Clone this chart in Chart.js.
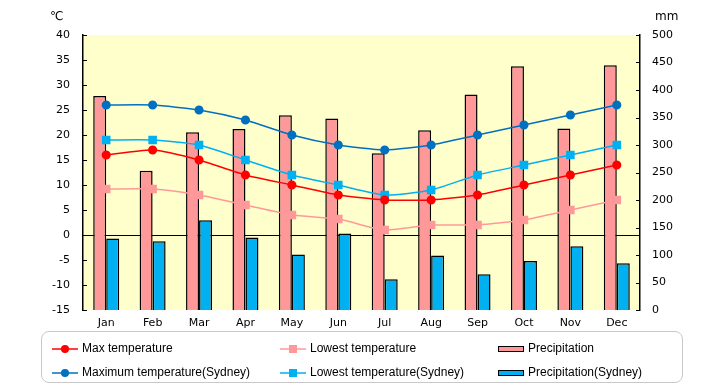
<!DOCTYPE html>
<html>
<head>
<meta charset="utf-8">
<script src="https://cdn.jsdelivr.net/npm/chart.js@4.4.0/dist/chart.umd.min.js"></script>
<style>
    body { margin: 0; background: #ffffff; }
    #wrap { position: relative; width: 720px; height: 385px; }
    .unidade { position: absolute; top: 9px; font: 12px "DejaVu Sans", sans-serif; color: #000; }
    #legenda {
        position: absolute; left: 41px; top: 331px; width: 642px; height: 52px;
        border: 1px solid #c8c8c8; border-radius: 8px; box-sizing: border-box;
        font: 12px "Liberation Sans", sans-serif; color: #000;
    }
    .item { position: absolute; height: 16px; line-height: 16px; white-space: nowrap; }
    .item canvas { vertical-align: middle; margin-right: 4px; }
</style>
</head>
<body>
<div id="wrap">
    <canvas id="grafico" width="720" height="385"></canvas>
    <span class="unidade" style="left:50px">℃</span>
    <span class="unidade" style="left:655px">mm</span>
    <div id="legenda"></div>
</div>
<script>
const meses = ['Jan', 'Feb', 'Mar', 'Apr', 'May', 'Jun', 'Jul', 'Aug', 'Sep', 'Oct', 'Nov', 'Dec'];

const maxTemp = [16, 17, 15, 12, 10, 8, 7, 7, 8, 10, 12, 14];
const minTemp = [9.2, 9.2, 8, 6, 4, 3.2, 1, 2, 2, 3, 5, 7];
const maxSydney = [26, 26, 25, 23, 20, 18, 17, 18, 20, 22, 24, 26];
const minSydney = [19, 19, 18, 15, 12, 10, 8, 9, 12, 14, 16, 18];
const chuva = [389, 253, 323, 329, 354, 348, 285, 327, 392, 443, 330, 445];
const chuvaSydney = [130, 125, 163, 132, 101, 139, 56, 99, 65, 89, 116, 85];

const ticksTemp = [-15, -10, -5, 0, 5, 10, 15, 20, 25, 30, 35, 40];
const ticksChuva = [0, 50, 100, 150, 200, 250, 300, 350, 400, 450, 500];

const fonte = { family: 'DejaVu Sans', size: 11 };

// fundo amarelo da area do grafico + ticks para dentro
const pluginFundo = {
    id: 'fundo',
    beforeDraw(chart) {
        const { ctx, chartArea } = chart;
        ctx.save();
        ctx.fillStyle = '#ffffcc';
        ctx.fillRect(chartArea.left, chartArea.top, chartArea.right - chartArea.left, chartArea.bottom - chartArea.top);
        ctx.restore();
    },
    afterDraw(chart) {
        const { ctx, chartArea } = chart;
        const y = chart.scales.y;
        const y2 = chart.scales.y2;
        ctx.save();
        ctx.strokeStyle = '#000';
        ctx.lineWidth = 1;
        ctx.beginPath();
        ticksTemp.forEach(v => {
            const py = Math.round(y.getPixelForValue(v)) + 0.5;
            ctx.moveTo(chartArea.left, py);
            ctx.lineTo(chartArea.left + 4, py);
        });
        ticksChuva.forEach(v => {
            const py = Math.round(y2.getPixelForValue(v)) + 0.5;
            ctx.moveTo(chartArea.right, py);
            ctx.lineTo(chartArea.right - 4, py);
        });
        ctx.stroke();
        ctx.restore();
    }
};

const dados = {
    labels: meses,
    datasets: [
        {
            type: 'line', label: 'Max temperature', data: maxTemp, yAxisID: 'y', order: 1,
            borderColor: '#ff0000', backgroundColor: '#ff0000', borderWidth: 1.5,
            pointStyle: 'circle', pointRadius: 3.8, tension: 0.2
        },
        {
            type: 'line', label: 'Lowest temperature', data: minTemp, yAxisID: 'y', order: 1,
            borderColor: '#ff9999', backgroundColor: '#ff9999', borderWidth: 1.5,
            pointStyle: 'rect', pointRadius: 5, tension: 0.2
        },
        {
            type: 'bar', label: 'Precipitation', data: chuva, yAxisID: 'y2', order: 2,
            backgroundColor: '#ff9999', borderColor: '#000000', borderWidth: 1.5,
            barPercentage: 1, categoryPercentage: 0.56
        },
        {
            type: 'line', label: 'Maximum temperature(Sydney)', data: maxSydney, yAxisID: 'y', order: 1,
            borderColor: '#0070c0', backgroundColor: '#0070c0', borderWidth: 1.5,
            pointStyle: 'circle', pointRadius: 3.8, tension: 0.2
        },
        {
            type: 'line', label: 'Lowest temperature(Sydney)', data: minSydney, yAxisID: 'y', order: 1,
            borderColor: '#00b0f0', backgroundColor: '#00b0f0', borderWidth: 1.5,
            pointStyle: 'rect', pointRadius: 5, tension: 0.2
        },
        {
            type: 'bar', label: 'Precipitation(Sydney)', data: chuvaSydney, yAxisID: 'y2', order: 2,
            backgroundColor: '#00b0f0', borderColor: '#000000', borderWidth: 1.5,
            barPercentage: 1, categoryPercentage: 0.56
        }
    ]
};

const config = {
    data: dados,
    plugins: [pluginFundo],
    options: {
        responsive: false,
        animation: false,
        layout: { padding: { top: 35, bottom: 55, left: 0, right: 0 } },
        plugins: { legend: { display: false }, tooltip: { enabled: false } },
        scales: {
            x: {
                grid: { display: false, drawTicks: false },
                border: { display: false },
                ticks: { color: '#000', font: fonte, padding: 7 },
                afterFit(scale) { scale.height = 20; }
            },
            y: {
                position: 'left', min: -15, max: 40,
                afterBuildTicks(scale) { scale.ticks = ticksTemp.map(v => ({ value: v })); },
                grid: {
                    drawTicks: false, drawOnChartArea: true,
                    color: ctx => ctx.tick && ctx.tick.value === 0 ? '#000000' : 'rgba(0,0,0,0)',
                    lineWidth: 1
                },
                border: { display: true, color: '#000', width: 1.5 },
                ticks: { color: '#000', font: fonte, padding: 13 },
                afterFit(scale) { scale.width = 83; }
            },
            y2: {
                position: 'right', min: 0, max: 500,
                afterBuildTicks(scale) { scale.ticks = ticksChuva.map(v => ({ value: v })); },
                grid: { display: false, drawTicks: false },
                border: { display: true, color: '#000', width: 1.5 },
                ticks: { color: '#000', font: fonte, padding: 12 },
                afterFit(scale) { scale.width = 80; }
            }
        }
    }
};

let meuGrafico = new Chart(document.getElementById('grafico'), config);

// Legenda em html, montada a partir dos datasets
const posicoesLegenda = [
    { x: 10, y: 8 }, { x: 238, y: 8 }, { x: 456, y: 8 },
    { x: 10, y: 32 }, { x: 238, y: 32 }, { x: 456, y: 32 }
];

dados.datasets.forEach((ds, i) => {
    const item = document.createElement('div');
    item.className = 'item';
    item.style.left = posicoesLegenda[i].x + 'px';
    item.style.top = posicoesLegenda[i].y + 'px';

    const amostra = document.createElement('canvas');
    amostra.width = 26;
    amostra.height = 12;
    const c = amostra.getContext('2d');
    if (ds.type === 'bar') {
        c.fillStyle = ds.backgroundColor;
        c.fillRect(1, 4, 24, 4);
        c.strokeStyle = '#000';
        c.lineWidth = 1;
        c.strokeRect(0.5, 3.5, 25, 5);
    } else {
        c.strokeStyle = ds.borderColor;
        c.lineWidth = 1.5;
        c.beginPath();
        c.moveTo(0, 6);
        c.lineTo(26, 6);
        c.stroke();
        c.fillStyle = ds.backgroundColor;
        if (ds.pointStyle === 'rect') {
            c.fillRect(9, 2, 8, 8);
        } else {
            c.beginPath();
            c.arc(13, 6, 4, 0, Math.PI * 2);
            c.fill();
        }
    }
    item.appendChild(amostra);
    item.appendChild(document.createTextNode(ds.label));
    document.getElementById('legenda').appendChild(item);
});
</script>
</body>
</html>
